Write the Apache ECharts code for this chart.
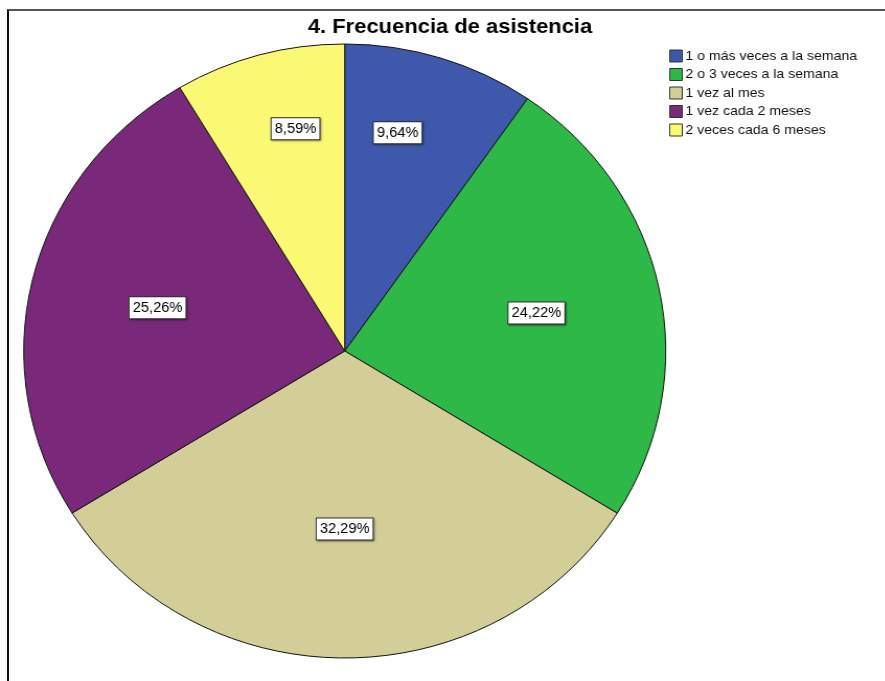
<!DOCTYPE html>
<html>
<head>
<meta charset="utf-8">
<script src="https://cdn.jsdelivr.net/npm/echarts@6/dist/echarts.min.js"></script>
<style>
  html, body { margin: 0; padding: 0; background: #ffffff; }
  #wrap { position: relative; width: 885px; height: 681px; overflow: hidden; background: #ffffff; }
  #frame { position: absolute; left: 7px; top: 9px; right: -4px; bottom: -4px;
           border-left: 2px solid #111; border-top: 2px solid #555; }
  /* the plot is drawn slightly wider than tall */
  #chart { position: absolute; left: 0; top: 0; width: 846.4px; height: 681px;
           transform: scaleX(1.0456); transform-origin: 0 0; }
</style>
</head>
<body>
<div id="wrap">
  <div id="frame"></div>
  <div id="chart"></div>
</div>
<script>
// Frecuencia de asistencia (porcentajes)
const categories = [
  '1 o más veces a la semana',
  '2 o 3 veces a la semana',
  '1 vez al mes',
  '1 vez cada 2 meses',
  '2 veces cada 6 meses'
];
const percentages = [9.64, 24.22, 32.29, 25.26, 8.59];
const sliceColors = ['#3E58AC', '#2EB848', '#D3CE97', '#7A287A', '#FBF873'];
const chartTitle = '4. Frecuencia de asistencia';

const CX = 329.7, CY = 351, R = 307;
// label distance (fraction of radius) and small angular nudge per slice
const labelRadius = [0.73, 0.61, 0.58, 0.60, 0.74];
const labelShift = [-4.3, 0, 0, 0, 3.5];

const total = percentages.reduce((a, b) => a + b, 0);
const midAngles = [];
{
  let cum = 0;
  percentages.forEach(v => { midAngles.push((cum + v / 2) / total * 360); cum += v; });
}

const chart = echarts.init(document.getElementById('chart'));
chart.setOption({
  animation: false,
  backgroundColor: 'transparent',
  graphic: [{
    type: 'text',
    x: 430.4, y: 27,
    style: {
      text: chartTitle,
      font: 'bold 21px "Liberation Sans", Arial, sans-serif',
      fill: '#000',
      align: 'center',
      verticalAlign: 'middle'
    }
  }],
  legend: {
    orient: 'vertical',
    left: 635, top: 44,
    itemWidth: 12, itemHeight: 12, itemGap: 4.5,
    icon: 'rect',
    selectedMode: false,
    data: categories,
    itemStyle: { borderColor: '#333', borderWidth: 1 },
    textStyle: { fontFamily: '"Liberation Sans", Arial, sans-serif', fontSize: 13.5, color: '#111', padding: [0, 0, 0, -2] }
  },
  series: [{
    type: 'pie',
    center: [CX, CY],
    radius: [0, R],
    startAngle: 90,
    clockwise: true,
    avoidLabelOverlap: false,
    silent: true,
    itemStyle: { borderColor: '#111', borderWidth: 1 },
    label: {
      show: true,
      position: 'inside',
      formatter: p => p.value.toFixed(2).replace('.', ',') + '%',
      fontFamily: '"Liberation Sans", Arial, sans-serif',
      fontSize: 14,
      color: '#000',
      backgroundColor: '#fff',
      borderColor: '#333',
      borderWidth: 1,
      padding: [4, 3, 3, 3],
      shadowColor: 'rgba(0,0,0,0.35)',
      shadowBlur: 2,
      shadowOffsetX: 1,
      shadowOffsetY: 1
    },
    labelLine: { show: false },
    labelLayout: params => {
      const i = params.dataIndex;
      const a = (midAngles[i] + labelShift[i]) * Math.PI / 180;
      const r = labelRadius[i] * R;
      return {
        x: CX + r * Math.sin(a),
        y: CY - r * Math.cos(a),
        align: 'center',
        verticalAlign: 'middle'
      };
    },
    data: categories.map((name, i) => ({
      name: name,
      value: percentages[i],
      itemStyle: { color: sliceColors[i] }
    }))
  }]
});
</script>
</body>
</html>
